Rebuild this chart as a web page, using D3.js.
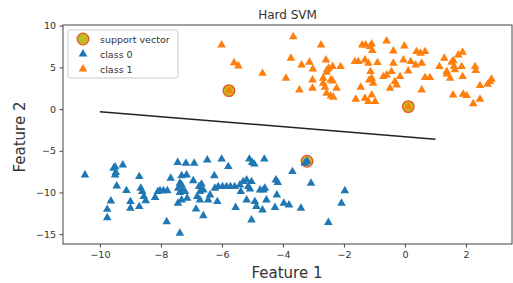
<!DOCTYPE html>
<html>
<head>
<meta charset="utf-8">
<script src="https://cdn.jsdelivr.net/npm/d3@7"></script>
<style>
  body { margin: 0; background: #fff; }
  svg { font-family: "DejaVu Sans", sans-serif; }
</style>
</head>
<body>
<svg width="513" height="283"></svg>
<script>
// class 1 (orange) points
var class1X = [-6.01, -3.66, -5.60, -5.46, -4.67, -2.75, -3.74, -3.90, -3.46, -3.39, -3.13, -3.02, -3.03, -3.03,
  -2.59, -2.68, -2.68, -2.62, -2.55, -2.50, -2.37, -2.57, -2.43, -2.37, -2.24, -2.57, -2.43, -2.35, -2.11,
  -1.64, -1.53, -1.61, -1.45, -1.40, -1.29, -1.15, -1.09, -1.07, -1.31, -1.20, -1.13, -1.09, -1.17, -1.04,
  -1.31, -1.20, -0.98, -1.09, -0.90, -0.71, -0.60, -0.44, -0.60, -0.38, -0.38, -0.33, -0.27, -0.49, -0.16,
  -0.05, -0.02, 0.11, 0.19, 0.35, 0.38, 0.51, 0.66, 0.55, 0.55, 0.66, 0.82, 1.13, 1.29, 1.37, 1.37, 1.53,
  1.59, 1.61, 1.64, 1.48, 1.58, 1.86, 1.89, 1.75, 1.89, 1.91, 2.02, 2.30, 2.32, 2.46, 2.46, 2.24, 2.71,
  2.79, 2.84, -5.77, 0.11];
var class1Y = [7.69, 8.68, 5.56, 5.17, 4.28, 7.69, 6.09, 3.69, 2.29, 5.29, 5.61, 4.81, 3.49, 2.49,
  5.89, 3.69, 3.09, 2.61, 4.70, 4.90, 5.10, 4.40, 3.49, 3.37, 2.49, 1.89, 1.57, 1.41, 5.09,
  5.69, 5.69, 1.17, 2.61, 7.69, 7.69, 7.49, 7.81, 7.01, 5.89, 5.49, 4.49, 3.69, 3.49, 3.09,
  1.29, 0.89, 0.89, 1.69, 5.57, 3.89, 4.09, 4.49, 8.17, 6.97, 5.49, 3.29, 2.89, 2.49, 3.89,
  5.89, 7.57, 4.57, 5.69, 5.29, 6.89, 6.69, 6.89, 5.49, 2.29, 3.77, 3.77, 5.09, 6.09, 4.50, 4.20, 5.60,
  5.80, 5.10, 4.70, 3.69, 1.69, 5.09, 3.89, 6.49, 6.81, 1.77, 1.61, 5.09, 4.61, 2.81, 1.17, 0.65, 2.97,
  3.29, 3.57, 2.21, 0.29];

// class 0 (blue) points
var class0X = [-10.49, -9.76, -9.76, -9.64, -9.55, -9.50, -9.48, -9.50, -9.45, -9.25, -9.13, -9.00, -9.00,
  -8.71, -8.71, -8.66, -8.61, -8.56, -8.50, -8.19, -8.10, -8.03, -7.92, -7.79, -7.81, -7.68, -7.45, -7.38,
  -7.32, -7.43, -7.38, -7.29, -7.21, -7.32, -7.38, -7.44, -7.32, -7.16, -7.18, -7.14, -6.94, -6.91, -6.85,
  -6.75, -6.72, -6.81, -6.72, -6.67, -6.61, -6.61, -6.48, -6.39, -6.45, -6.25, -6.23, -6.12, -5.98, -5.85,
  -5.72, -5.58, -6.15, -6.01, -5.79, -5.55, -5.41, -5.38, -5.30, -5.19, -5.14, -5.08, -5.03, -5.19, -5.10,
  -5.01, -4.94, -5.03, -4.92, -4.87, -4.75, -4.64, -4.59, -4.67, -4.61, -4.54, -4.26, -4.23, -4.17, -4.20,
  -3.97, -3.80, -3.69, -3.41, -3.28, -3.21, -3.08, -2.51, -2.08, -1.97];
var class0Y = [-7.91, -12.03, -13.03, -11.03, -7.10, -6.95, -7.60, -7.90, -9.22, -6.70, -9.78, -11.10, -11.90,
  -8.10, -11.70, -9.50, -9.90, -10.50, -11.00, -10.60, -9.90, -9.80, -9.80, -9.80, -13.50, -8.30, -6.40, -8.90,
  -9.10, -9.50, -10.00, -9.70, -9.90, -10.90, -14.90, -11.30, -8.00, -7.90, -6.50, -10.70, -8.60, -6.50, -12.00,
  -9.30, -9.90, -10.50, -10.90, -9.00, -9.70, -12.80, -6.10, -10.30, -10.90, -8.00, -9.50, -9.30, -9.30, -9.30,
  -9.30, -9.30, -11.10, -6.00, -6.90, -11.80, -9.10, -9.90, -8.70, -8.50, -9.30, -9.60, -8.70, -10.90, -6.00,
  -6.40, -6.60, -13.30, -11.10, -11.70, -9.70, -9.70, -9.50, -12.10, -6.00, -10.90, -11.80, -8.50, -8.80, -10.30,
  -11.30, -11.50, -7.50, -11.90, -6.50, -6.26, -8.90, -13.60, -11.30, -9.80];

// support vectors
var svX = [-5.77, 0.11, -3.21];
var svY = [2.21, 0.29, -6.26];

// separating line end points
var lineX = [-10, 1];
var lineY = [-0.31, -3.62];

var xTicks = [-10, -8, -6, -4, -2, 0, 2];
var yTicks = [10, 5, 0, -5, -10, -15];

var legendLabels = ["support vector", "class 0", "class 1"];

function drawChart()
{
    var svg = d3.select("svg");
    var left = 63, right = 512, top = 25, bottom = 244;
    var textColor = "#333";

    var x = d3.scaleLinear().domain([-11.21, 3.51]).range([left, right]);
    var y = d3.scaleLinear().domain([-16.18, 10.08]).range([bottom, top]);

    function pts(xs, ys) {
        return xs.map(function(v, i) { return {x: v, y: ys[i]}; });
    }

    var tri = d3.symbol().type(d3.symbolTriangle).size(32);

    // support vector circles
    svg.append("g").selectAll("circle")
        .data(pts(svX, svY))
        .enter().append("circle")
        .attr("cx", function(d) { return x(d.x); })
        .attr("cy", function(d) { return y(d.y); })
        .attr("r", 5.8)
        .style("fill", "#bcbd22")
        .style("stroke", "#f0502a")
        .style("stroke-width", 1.3);

    svg.append("g").selectAll("path")
        .data(pts(class0X, class0Y))
        .enter().append("path")
        .attr("d", tri)
        .attr("transform", function(d) { return "translate(" + x(d.x) + "," + y(d.y) + ")"; })
        .style("fill", "#1f77b4");

    svg.append("g").selectAll("path")
        .data(pts(class1X, class1Y))
        .enter().append("path")
        .attr("d", tri)
        .attr("transform", function(d) { return "translate(" + x(d.x) + "," + y(d.y) + ")"; })
        .style("fill", "#ff7f0e");

    // decision boundary
    svg.append("path")
        .datum(pts(lineX, lineY))
        .attr("d", d3.line().x(function(d) { return x(d.x); }).y(function(d) { return y(d.y); }))
        .style("fill", "none")
        .style("stroke", "#222")
        .style("stroke-width", 1.5);

    // axes
    var xAxis = svg.append("g")
        .attr("transform", "translate(0," + bottom + ")")
        .call(d3.axisBottom(x).tickValues(xTicks).tickSize(3.5).tickPadding(3.5)
            .tickFormat(function(d) { return d3.format("d")(d).replace("-", "\u2212"); }));
    var yAxis = svg.append("g")
        .attr("transform", "translate(" + left + ",0)")
        .call(d3.axisLeft(y).tickValues(yTicks).tickSize(3.5).tickPadding(3.5)
            .tickFormat(function(d) { return d3.format("d")(d).replace("-", "\u2212"); }));
    [xAxis, yAxis].forEach(function(a) {
        a.select(".domain").remove();
        a.selectAll("line").style("stroke", "#444");
        a.selectAll("text").style("fill", textColor).style("font-size", "9.5px")
            .style("font-family", "DejaVu Sans");
    });

    svg.append("rect")
        .attr("x", left).attr("y", top)
        .attr("width", right - left).attr("height", bottom - top)
        .style("fill", "none")
        .style("stroke", "#444")
        .style("stroke-width", 1);

    // title and labels
    svg.append("text")
        .attr("x", (left + right) / 2).attr("y", 19)
        .attr("text-anchor", "middle")
        .style("font-size", "12px").style("fill", textColor)
        .text("Hard SVM");
    svg.append("text")
        .attr("x", 287).attr("y", 278)
        .attr("text-anchor", "middle")
        .style("font-size", "15px").style("fill", textColor)
        .text("Feature 1");
    svg.append("text")
        .attr("transform", "translate(25,137) rotate(-90)")
        .attr("text-anchor", "middle")
        .style("font-size", "15px").style("fill", textColor)
        .text("Feature 2");

    // legend
    var lg = svg.append("g").attr("transform", "translate(68,30)");
    lg.append("rect")
        .attr("width", 110).attr("height", 48).attr("rx", 2)
        .style("fill", "#fff").style("fill-opacity", 0.8)
        .style("stroke", "#ccc");
    lg.append("circle")
        .attr("cx", 15).attr("cy", 9).attr("r", 5.8)
        .style("fill", "#bcbd22").style("stroke", "#f0502a").style("stroke-width", 1.3);
    lg.append("path").attr("d", tri).attr("transform", "translate(15,24)").style("fill", "#1f77b4");
    lg.append("path").attr("d", tri).attr("transform", "translate(15,39)").style("fill", "#ff7f0e");
    lg.selectAll("text.lbl")
        .data(legendLabels)
        .enter().append("text")
        .attr("class", "lbl")
        .attr("x", 32)
        .attr("y", function(d, i) { return 12.5 + i * 15; })
        .style("font-size", "9.5px").style("fill", textColor)
        .text(function(d) { return d; });
}

drawChart();
</script>
</body>
</html>
